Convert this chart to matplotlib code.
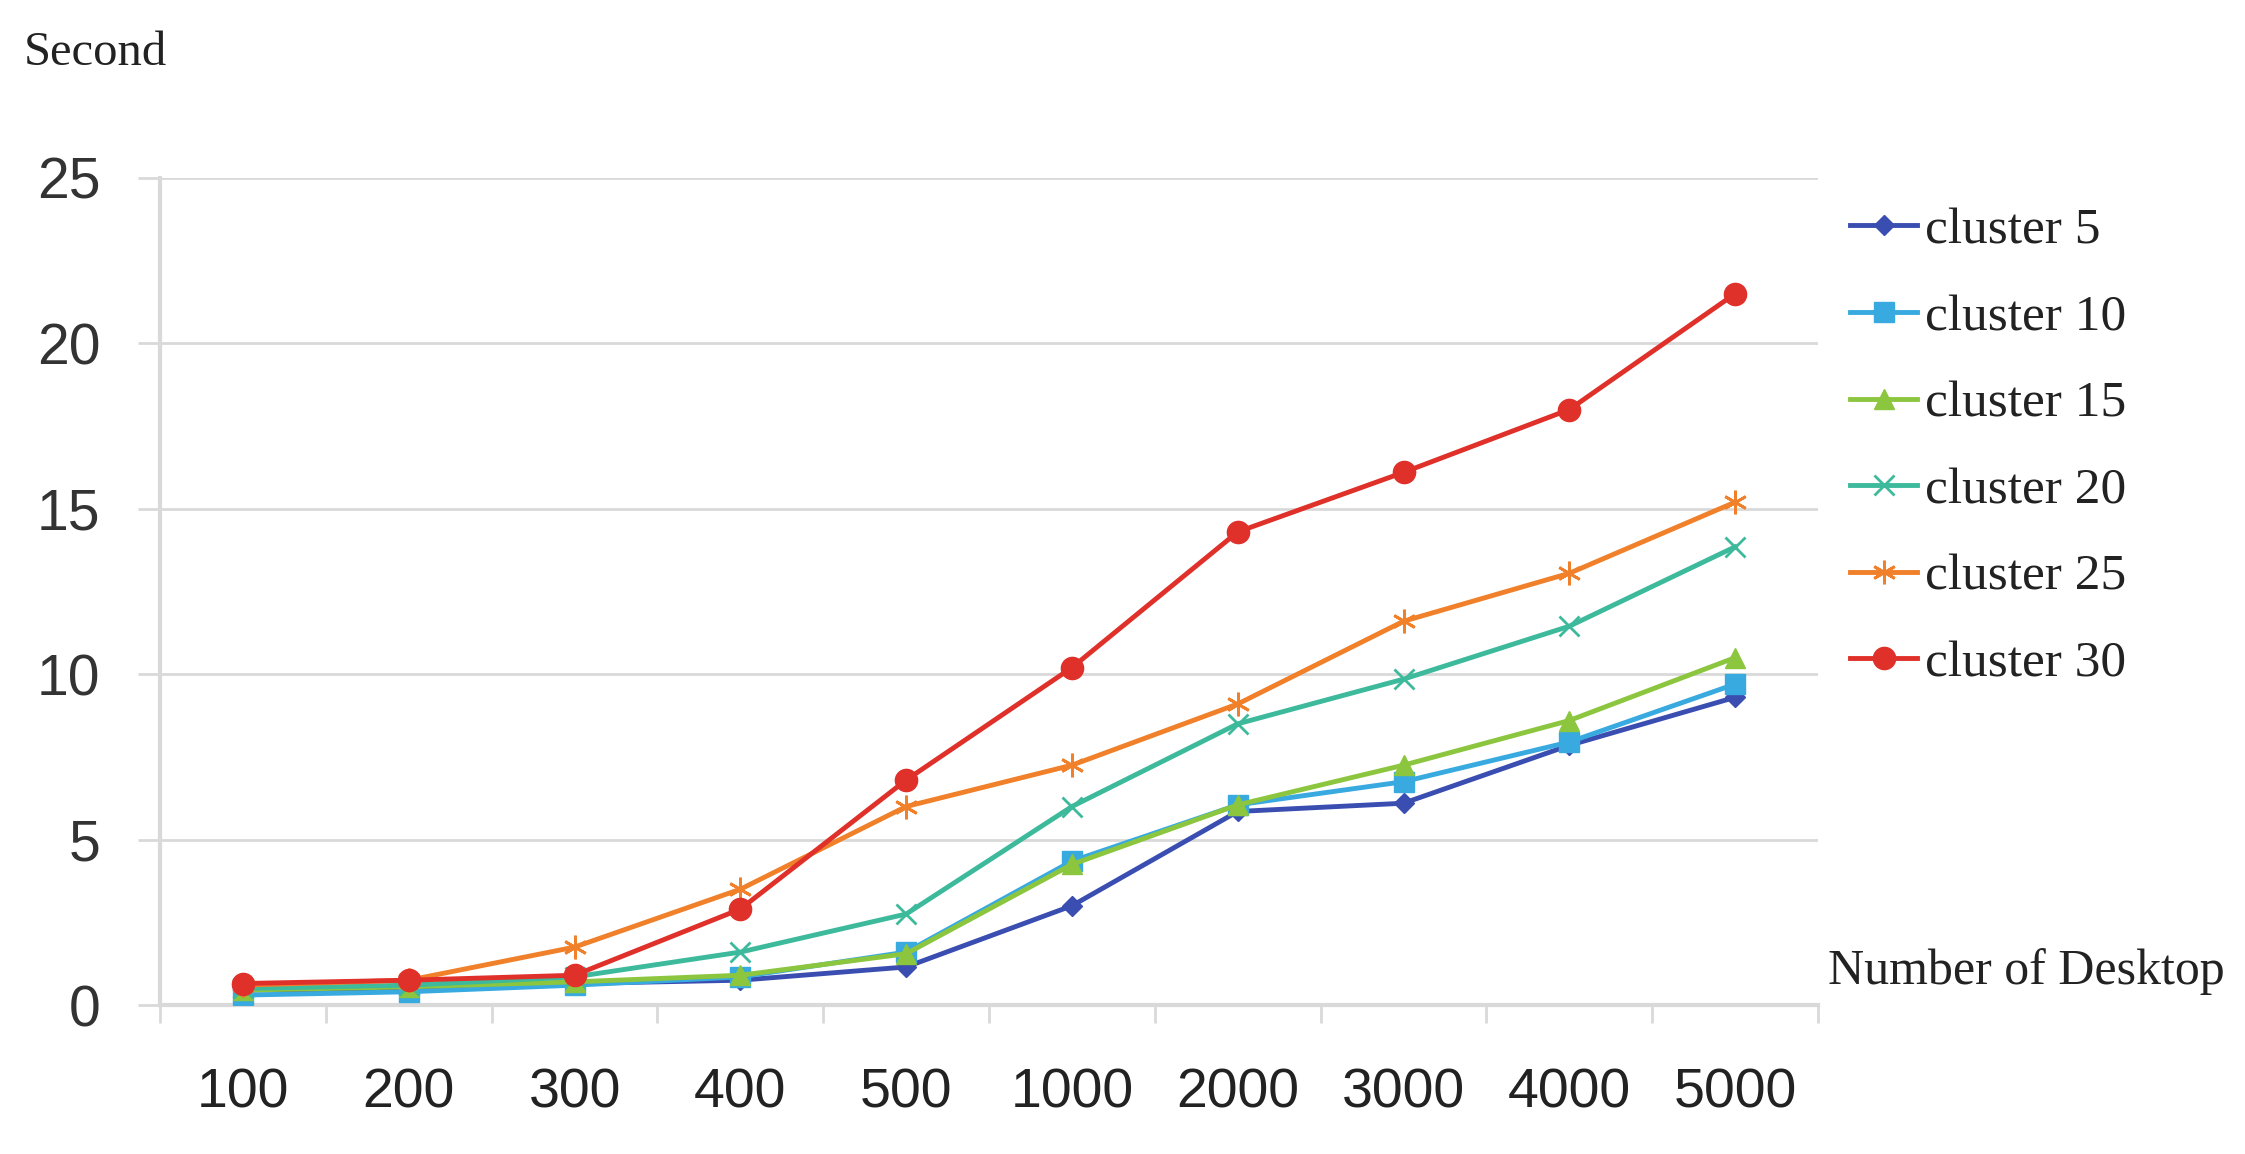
import matplotlib.pyplot as plt
from matplotlib.ticker import FixedLocator, NullFormatter

desktops = ['100', '200', '300', '400', '500', '1000', '2000', '3000', '4000', '5000']
cluster5 = [0.45, 0.5, 0.65, 0.75, 1.15, 3.0, 5.85, 6.1, 7.85, 9.3]
cluster10 = [0.3, 0.4, 0.6, 0.85, 1.6, 4.35, 6.05, 6.75, 7.95, 9.7]
cluster15 = [0.45, 0.55, 0.7, 0.9, 1.55, 4.25, 6.05, 7.25, 8.6, 10.5]
cluster20 = [0.5, 0.6, 0.85, 1.6, 2.75, 6.0, 8.5, 9.85, 11.45, 13.85]
cluster25 = [0.6, 0.75, 1.75, 3.5, 6.0, 7.25, 9.1, 11.6, 13.05, 15.2]
cluster30 = [0.65, 0.75, 0.9, 2.9, 6.8, 10.2, 14.3, 16.1, 18.0, 21.5]

series = [
    ('cluster 5', cluster5, '#3A4DB0', 'D', 10, 1),
    ('cluster 10', cluster10, '#38AADF', 's', 14, 1),
    ('cluster 15', cluster15, '#8CC63F', '^', 15, 1),
    ('cluster 20', cluster20, '#3DB99B', 'x', 15, 2),
    ('cluster 25', cluster25, '#F0802A', (6, 2, 0), 17, 2),
    ('cluster 30', cluster30, '#E0302A', 'o', 16, 1),
]

grid_col = '#D9D9D9'
serif = ['Liberation Serif', 'DejaVu Serif']
sans = ['Liberation Sans', 'DejaVu Sans']

fig = plt.figure(figsize=(22.45, 11.54), dpi=100)
ax = fig.add_axes([0.0713, 0.1291, 0.7385, 0.7167])

x = list(range(len(desktops)))
for name, vals, col, mk, ms, mew in series:
    ax.plot(x, vals, color=col, linewidth=3.5, marker=mk, markersize=ms,
            markeredgewidth=mew, markeredgecolor=col, label=name, zorder=3)

ax.set_xlim(-0.5, len(desktops) - 0.5)
ax.set_ylim(0, 25)
ax.set_yticks([0, 5, 10, 15, 20, 25])
ax.set_xticks(x)
ax.set_xticklabels(desktops, fontfamily=sans, fontsize=40)
for lab in ax.get_yticklabels():
    lab.set_fontfamily(sans)
    lab.set_fontsize(41)

# boundary ticks between categories, like the original chart
ax.xaxis.set_minor_locator(FixedLocator([i - 0.5 for i in range(len(desktops) + 1)]))
ax.xaxis.set_minor_formatter(NullFormatter())
ax.tick_params(axis='x', which='major', length=0, pad=45, colors='#222222')
ax.tick_params(axis='x', which='minor', length=13, width=2, color=grid_col)
ax.tick_params(axis='y', length=16, width=2, pad=27, colors='#333333')
ax.tick_params(axis='y', color=grid_col)

ax.grid(axis='y', color=grid_col, linewidth=2)
ax.set_axisbelow(True)
for s in ['top', 'right']:
    ax.spines[s].set_visible(False)
for s in ['left', 'bottom']:
    ax.spines[s].set_color(grid_col)
    ax.spines[s].set_linewidth(3)

fig.text(0.0105, 0.954, 'Second', fontfamily=serif, fontsize=35, va='center', ha='left', color='#222222')
fig.text(0.8143, 0.158, 'Number of Desktop', fontfamily=serif, fontsize=36, va='center', ha='left', color='#222222')

leg = ax.legend(loc='upper left', bbox_to_anchor=(0.815, 0.838), bbox_transform=fig.transFigure,
                frameon=False, prop={'family': serif, 'size': 37}, handlelength=1.3,
                handletextpad=0.15, labelspacing=0.77, borderaxespad=0)
for t in leg.get_texts():
    t.set_color('#222222')

fig.savefig('out.png', dpi=100)
